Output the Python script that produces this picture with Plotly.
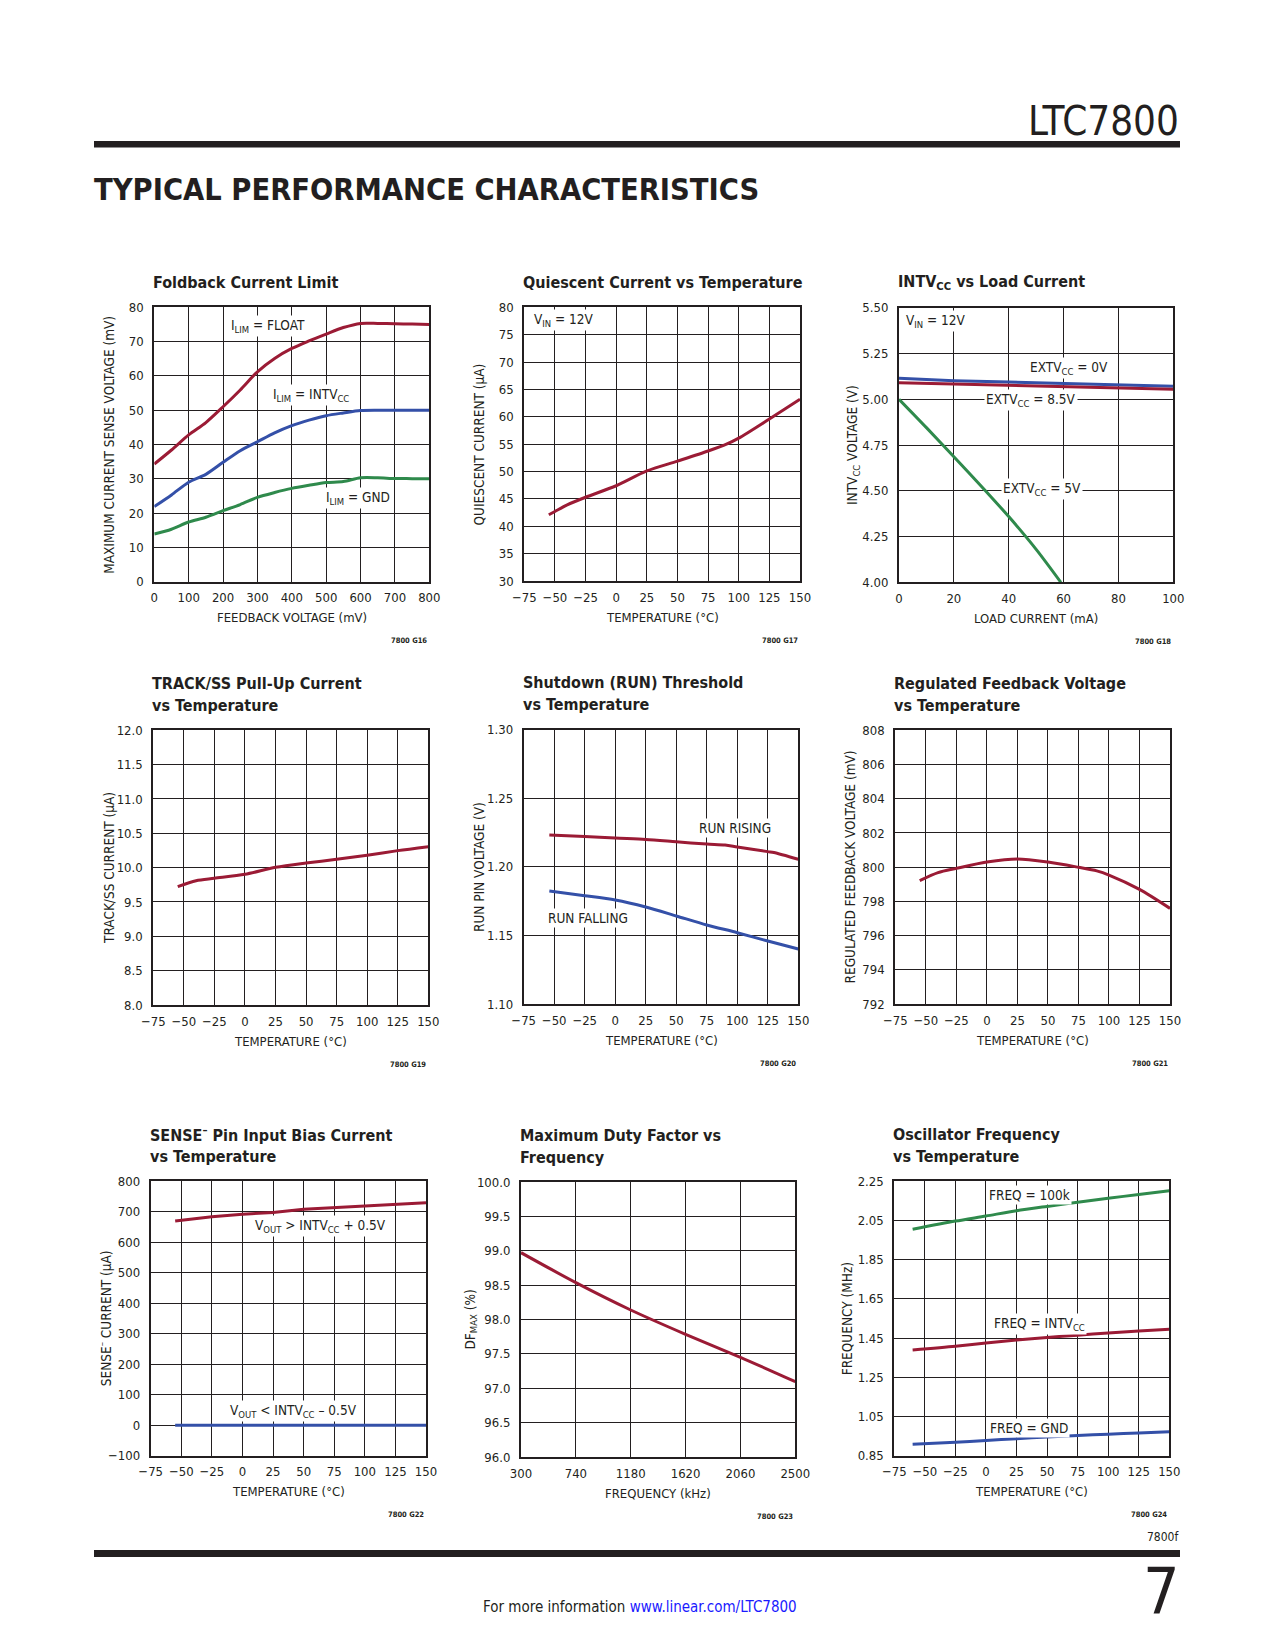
import plotly.graph_objects as go

# page is 1275x1650; the browser body keeps its default 8px margin,
# so the figure itself is 16px smaller and all page coordinates are shifted by 8px
PAGE_W, PAGE_H = 1275, 1650
OFF = 8
W, H = PAGE_W - 2 * OFF, PAGE_H - 2 * OFF
FONT = "Liberation Sans Narrow, DejaVu Sans Condensed, Arial Narrow, sans-serif"
TXT = "#231f20"
RED = "#9b1b35"
BLUE = "#3450a8"
GREEN = "#2f8a4c"

# ---------------- data ----------------
# G16 Foldback current limit
fb_vfb = [0, 50, 100, 150, 200, 250, 300, 350, 400, 450, 500, 550, 600, 650, 700, 750, 800]
fb_float = [34.3, 38.4, 42.8, 46.4, 51.0, 55.9, 61.2, 65.1, 68.0, 70.2, 72.2, 74.1, 75.3, 75.3, 75.2, 75.1, 75.0]
fb_intvcc = [21.9, 25.3, 29.0, 31.3, 34.8, 38.2, 40.8, 43.4, 45.5, 47.1, 48.4, 49.2, 49.9, 50.0, 50.0, 50.0, 50.0]
fb_gnd = [13.9, 15.3, 17.4, 18.8, 20.7, 22.5, 24.6, 26.0, 27.2, 28.1, 28.9, 29.2, 30.3, 30.3, 30.1, 30.05, 30.0]

# G17 Quiescent current vs temperature
qc_temp = [-55, -50, -40, -25, 0, 25, 50, 75, 90, 100, 125, 150]
qc_iq = [42.1, 42.7, 43.9, 45.3, 47.4, 50.1, 51.9, 53.75, 55.0, 56.1, 59.6, 63.2]

# G18 INTVcc vs load current
ld_ma = [0, 20, 40, 60, 80, 100]
ld_ext0 = [5.114, 5.101, 5.094, 5.087, 5.080, 5.071]
ld_ext85 = [5.090, 5.083, 5.076, 5.069, 5.061, 5.054]
ld5_ma = [0, 10, 20, 30, 40, 50, 59]
ld_ext5 = [5.0, 4.845, 4.686, 4.525, 4.359, 4.18, 4.0]

# G19 TRACK/SS pull-up current
ss_temp = [-55, -40, -25, 0, 25, 50, 75, 100, 125, 150]
ss_i = [9.723, 9.81, 9.845, 9.903, 10.005, 10.068, 10.121, 10.18, 10.248, 10.306]

# G20 RUN threshold
rr_temp = [-54, -25, 0, 25, 50, 75, 90, 100, 125, 130, 150]
rr_v = [1.2232, 1.2222, 1.2210, 1.2200, 1.2183, 1.2166, 1.2159, 1.2145, 1.2111, 1.2105, 1.2055]
rf_temp = [-54, -25, 0, 25, 50, 75, 100, 125, 150]
rf_v = [1.1824, 1.1790, 1.1758, 1.1707, 1.1642, 1.1576, 1.1520, 1.1459, 1.1401]

# G21 Regulated feedback voltage
vf_temp = [-55, -40, -25, 0, 25, 50, 75, 90, 100, 125, 150]
vf_mv = [799.21, 799.68, 799.93, 800.30, 800.48, 800.30, 799.99, 799.78, 799.54, 798.70, 797.59]

# G22 SENSE- bias current
sn_temp = [-55, -25, 0, 25, 50, 75, 100, 125, 150]
sn_hi = [670, 684, 692, 698, 708, 714, 720, 725, 730]
sn_lo_temp = [-55, 150]
sn_lo = [0, 0]

# G23 Max duty factor
df_khz = [300, 740, 1180, 1620, 2060, 2500]
df_pct = [98.972, 98.536, 98.138, 97.784, 97.45, 97.096]

# G24 Oscillator frequency
os_temp = [-60, -25, 0, 25, 50, 75, 100, 125, 150]
os_100k = [2.005, 2.047, 2.073, 2.100, 2.122, 2.143, 2.163, 2.183, 2.202]
os_intv = [1.389, 1.408, 1.425, 1.440, 1.453, 1.465, 1.476, 1.486, 1.495]
os_gnd = [0.908, 0.918, 0.928, 0.937, 0.946, 0.953, 0.960, 0.966, 0.972]

df_ticks = [300, 740, 1180, 1620, 2060, 2500]

# ---------------- layout helpers ----------------
def px(x):
    return (x - OFF) / W

def py(y):
    return 1 - (y - OFF) / H

# plot-area rectangles in page pixels: left, right, top, bottom
panels = [
    (154.3, 429.3, 307.3, 581.7),
    (524.3, 800.0, 307.3, 581.0),
    (899.0, 1173.3, 307.7, 582.3),
    (153.3, 428.3, 730.3, 1005.0),
    (523.7, 798.3, 729.7, 1004.0),
    (895.3, 1170.0, 730.3, 1004.0),
    (150.7, 426.0, 1181.3, 1455.7),
    (521.0, 795.3, 1182.0, 1457.0),
    (894.3, 1169.3, 1181.3, 1455.7),
]

TICK_SIZE = 13
AXT_SIZE = 13
YT_SIZE = 13.5
TITLE_SIZE = 16
LABEL_SIZE = 13.5

fig = go.Figure()
annotations = []
layout = dict(
    width=W, height=H, margin=dict(l=0, r=0, t=0, b=0, pad=0, autoexpand=False),
    paper_bgcolor="white", plot_bgcolor="white", showlegend=False,
    font=dict(family=FONT, color=TXT, size=TICK_SIZE),
)

def axis_common():
    return dict(showgrid=True, gridcolor=TXT, gridwidth=1, showline=True,
                linecolor=TXT, linewidth=2, mirror=True, ticks="", zeroline=False,
                automargin=False,
                tickfont=dict(family=FONT, size=TICK_SIZE, color=TXT), fixedrange=True)

def setup_panel(i, xr, yr, xdtick=None, ydtick=None, xtickvals=None, ytickfmt=None,
                title_lines=(), xtitle="", ytitle="", code="", ytitle_dx=45):
    l, r, t, b = panels[i]
    n = "" if i == 0 else str(i + 1)
    xa = axis_common()
    xa.update(domain=[px(l), px(r)], range=xr, anchor="y" + n, ticklabelstandoff=3)
    if xtickvals is not None:
        xa.update(tickmode="array", tickvals=xtickvals)
    else:
        xa.update(tick0=xr[0], dtick=xdtick)
    ya = axis_common()
    ya.update(domain=[py(b), py(t)], range=yr, anchor="x" + n, tick0=yr[0], dtick=ydtick,
              ticklabelstandoff=6)
    if ytickfmt:
        ya.update(tickformat=ytickfmt)
    layout["xaxis" + n] = xa
    layout["yaxis" + n] = ya
    nl = len(title_lines)
    for k, tl in enumerate(title_lines):
        yc = t - 25 - 22 * (nl - 1 - k)
        annotations.append(dict(xref="paper", yref="paper", x=px(l - 3), y=py(yc),
                                text="<b>" + tl + "</b>", showarrow=False, xanchor="left",
                                yanchor="middle", font=dict(family=FONT, size=TITLE_SIZE, color=TXT)))
    annotations.append(dict(xref="paper", yref="paper", x=px((l + r) / 2), y=py(b + 36),
                            text=xtitle, showarrow=False, xanchor="center", yanchor="middle",
                            font=dict(family=FONT, size=AXT_SIZE, color=TXT)))
    annotations.append(dict(xref="paper", yref="paper", x=px(l - ytitle_dx), y=py((t + b) / 2),
                            text=ytitle, showarrow=False, xanchor="center", yanchor="middle",
                            textangle=-90, font=dict(family=FONT, size=YT_SIZE, color=TXT)))
    annotations.append(dict(xref="paper", yref="paper", x=px(r), y=py(b + 59),
                            text="<b>" + code + "</b>", showarrow=False, xanchor="right",
                            yanchor="middle", font=dict(family=FONT, size=7.5, color=TXT)))
    return "x" + n, "y" + n

def line(xa, ya, xs, ys, color, shape="spline"):
    fig.add_trace(go.Scatter(x=xs, y=ys, mode="lines", xaxis=xa, yaxis=ya,
                             line=dict(color=color, width=3, shape=shape, smoothing=0.8),
                             hoverinfo="skip"))

def label(xa, ya, x, y, text, bg=True):
    annotations.append(dict(xref=xa, yref=ya, x=x, y=y, text=text, showarrow=False,
                            xanchor="left", yanchor="middle",
                            bgcolor="white" if bg else None, borderpad=1,
                            font=dict(family=FONT, size=LABEL_SIZE, color=TXT)))

# 1 Foldback
xa, ya = setup_panel(0, [0, 800], [0, 80], xdtick=100, ydtick=10,
                     title_lines=["Foldback Current Limit"],
                     xtitle="FEEDBACK VOLTAGE (mV)",
                     ytitle="MAXIMUM CURRENT SENSE VOLTAGE (mV)", code="7800 G16")
line(xa, ya, fb_vfb, fb_float, RED)
line(xa, ya, fb_vfb, fb_intvcc, BLUE)
line(xa, ya, fb_vfb, fb_gnd, GREEN)
label(xa, ya, 218, 74.6, "I<sub>LIM</sub> = FLOAT")
label(xa, ya, 339, 54.4, "I<sub>LIM</sub> = INTV<sub>CC</sub>")
label(xa, ya, 495, 24.3, "I<sub>LIM</sub> = GND")

# 2 Quiescent current
xa, ya = setup_panel(1, [-75, 150], [30, 80], xdtick=25, ydtick=5,
                     title_lines=["Quiescent Current vs Temperature"],
                     xtitle="TEMPERATURE (°C)", ytitle="QUIESCENT CURRENT (µA)", code="7800 G17")
line(xa, ya, qc_temp, qc_iq, RED)
label(xa, ya, -69, 77.6, "V<sub>IN</sub> = 12V")

# 3 INTVcc vs load
xa, ya = setup_panel(2, [0, 100], [4.0, 5.5], xdtick=20, ydtick=0.25, ytickfmt=".2f",
                     title_lines=["INTV<sub>CC</sub> vs Load Current"],
                     xtitle="LOAD CURRENT (mA)", ytitle="INTV<sub>CC</sub> VOLTAGE (V)", code="7800 G18",
                     ytitle_dx=46)
line(xa, ya, ld_ma, ld_ext0, BLUE, "linear")
line(xa, ya, ld_ma, ld_ext85, RED, "linear")
line(xa, ya, ld5_ma, ld_ext5, GREEN)
label(xa, ya, 1.8, 5.43, "V<sub>IN</sub> = 12V")
label(xa, ya, 47.2, 5.17, "EXTV<sub>CC</sub> = 0V")
label(xa, ya, 31.0, 4.997, "EXTV<sub>CC</sub> = 8.5V")
label(xa, ya, 37.2, 4.507, "EXTV<sub>CC</sub> = 5V")

# 4 TRACK/SS
xa, ya = setup_panel(3, [-75, 150], [8.0, 12.0], xdtick=25, ydtick=0.5, ytickfmt=".1f",
                     title_lines=["TRACK/SS Pull-Up Current", "vs Temperature"],
                     xtitle="TEMPERATURE (°C)", ytitle="TRACK/SS CURRENT (µA)", code="7800 G19")
line(xa, ya, ss_temp, ss_i, RED)

# 5 RUN threshold
xa, ya = setup_panel(4, [-75, 150], [1.10, 1.30], xdtick=25, ydtick=0.05, ytickfmt=".2f",
                     title_lines=["Shutdown (RUN) Threshold", "vs Temperature"],
                     xtitle="TEMPERATURE (°C)", ytitle="RUN PIN VOLTAGE (V)", code="7800 G20",
                     ytitle_dx=44.5)
line(xa, ya, rr_temp, rr_v, RED)
line(xa, ya, rf_temp, rf_v, BLUE)
label(xa, ya, 66.6, 1.2286, "RUN RISING")
label(xa, ya, -56.8, 1.1625, "RUN FALLING")

# 6 Regulated feedback
xa, ya = setup_panel(5, [-75, 150], [792, 808], xdtick=25, ydtick=2,
                     title_lines=["Regulated Feedback Voltage", "vs Temperature"],
                     xtitle="TEMPERATURE (°C)", ytitle="REGULATED FEEDBACK VOLTAGE (mV)", code="7800 G21")
line(xa, ya, vf_temp, vf_mv, RED)

# 7 SENSE- bias current
xa, ya = setup_panel(6, [-75, 150], [-100, 800], xdtick=25, ydtick=100,
                     title_lines=["SENSE<sup>–</sup> Pin Input Bias Current", "vs Temperature"],
                     xtitle="TEMPERATURE (°C)", ytitle="SENSE<sup>–</sup> CURRENT (µA)", code="7800 G22",
                     ytitle_dx=46)
line(xa, ya, sn_temp, sn_hi, RED, "linear")
line(xa, ya, sn_lo_temp, sn_lo, BLUE, "linear")
label(xa, ya, 8.8, 653, "V<sub>OUT</sub> > INTV<sub>CC</sub> + 0.5V")
label(xa, ya, -12.0, 46, "V<sub>OUT</sub> < INTV<sub>CC</sub> – 0.5V")

# 8 Max duty factor
xa, ya = setup_panel(7, [300, 2500], [96.0, 100.0], xtickvals=df_ticks,
                     ydtick=0.5, ytickfmt=".1f",
                     title_lines=["Maximum Duty Factor vs", "Frequency"],
                     xtitle="FREQUENCY (kHz)", ytitle="DF<sub>MAX</sub> (%)", code="7800 G23",
                     ytitle_dx=51)
line(xa, ya, df_khz, df_pct, RED)

# 9 Oscillator frequency
xa, ya = setup_panel(8, [-75, 150], [0.85, 2.25], xdtick=25, ydtick=0.2, ytickfmt=".2f",
                     title_lines=["Oscillator Frequency", "vs Temperature"],
                     xtitle="TEMPERATURE (°C)", ytitle="FREQUENCY (MHz)", code="7800 G24",
                     ytitle_dx=47.5)
line(xa, ya, os_temp, os_100k, GREEN)
line(xa, ya, os_temp, os_intv, RED)
line(xa, ya, os_temp, os_gnd, BLUE)
label(xa, ya, 0.6, 2.18, "FREQ = 100k")
label(xa, ya, 4.6, 1.52, "FREQ = INTV<sub>CC</sub>")
label(xa, ya, 1.6, 0.993, "FREQ = GND")

# ---------------- page furniture ----------------
annotations.append(dict(xref="paper", yref="paper", x=px(1181), y=py(121), text="LTC7800",
                        showarrow=False, xanchor="right", yanchor="middle",
                        font=dict(family=FONT, size=40, color=TXT)))
annotations.append(dict(xref="paper", yref="paper", x=px(92), y=py(189),
                        text="<b>TYPICAL PERFORMANCE CHARACTERISTICS</b>",
                        showarrow=False, xanchor="left", yanchor="middle",
                        font=dict(family=FONT, size=30.5, color=TXT)))
annotations.append(dict(xref="paper", yref="paper", x=px(1181), y=py(1537), text="7800f",
                        showarrow=False, xanchor="right", yanchor="middle",
                        font=dict(family=FONT, size=12, color=TXT)))
annotations.append(dict(xref="paper", yref="paper", x=px(1182), y=py(1592), text="7",
                        showarrow=False, xanchor="right", yanchor="middle",
                        font=dict(family=FONT, size=64, color=TXT)))
annotations.append(dict(xref="paper", yref="paper", x=px(640), y=py(1607),
                        text="For more information <span style='color:#1a1aff'>www.linear.com/LTC7800</span>",
                        showarrow=False, xanchor="center", yanchor="middle",
                        font=dict(family=FONT, size=15, color=TXT)))

shapes = [
    dict(type="rect", xref="paper", yref="paper", x0=px(94), x1=px(1180), y0=py(147.5), y1=py(141),
         fillcolor=TXT, line=dict(width=0)),
    dict(type="rect", xref="paper", yref="paper", x0=px(94), x1=px(1180), y0=py(1557), y1=py(1550),
         fillcolor=TXT, line=dict(width=0)),
]

layout["annotations"] = annotations
layout["shapes"] = shapes
fig.update_layout(**layout)

fig.write_html("out.html", config={"displayModeBar": False})
